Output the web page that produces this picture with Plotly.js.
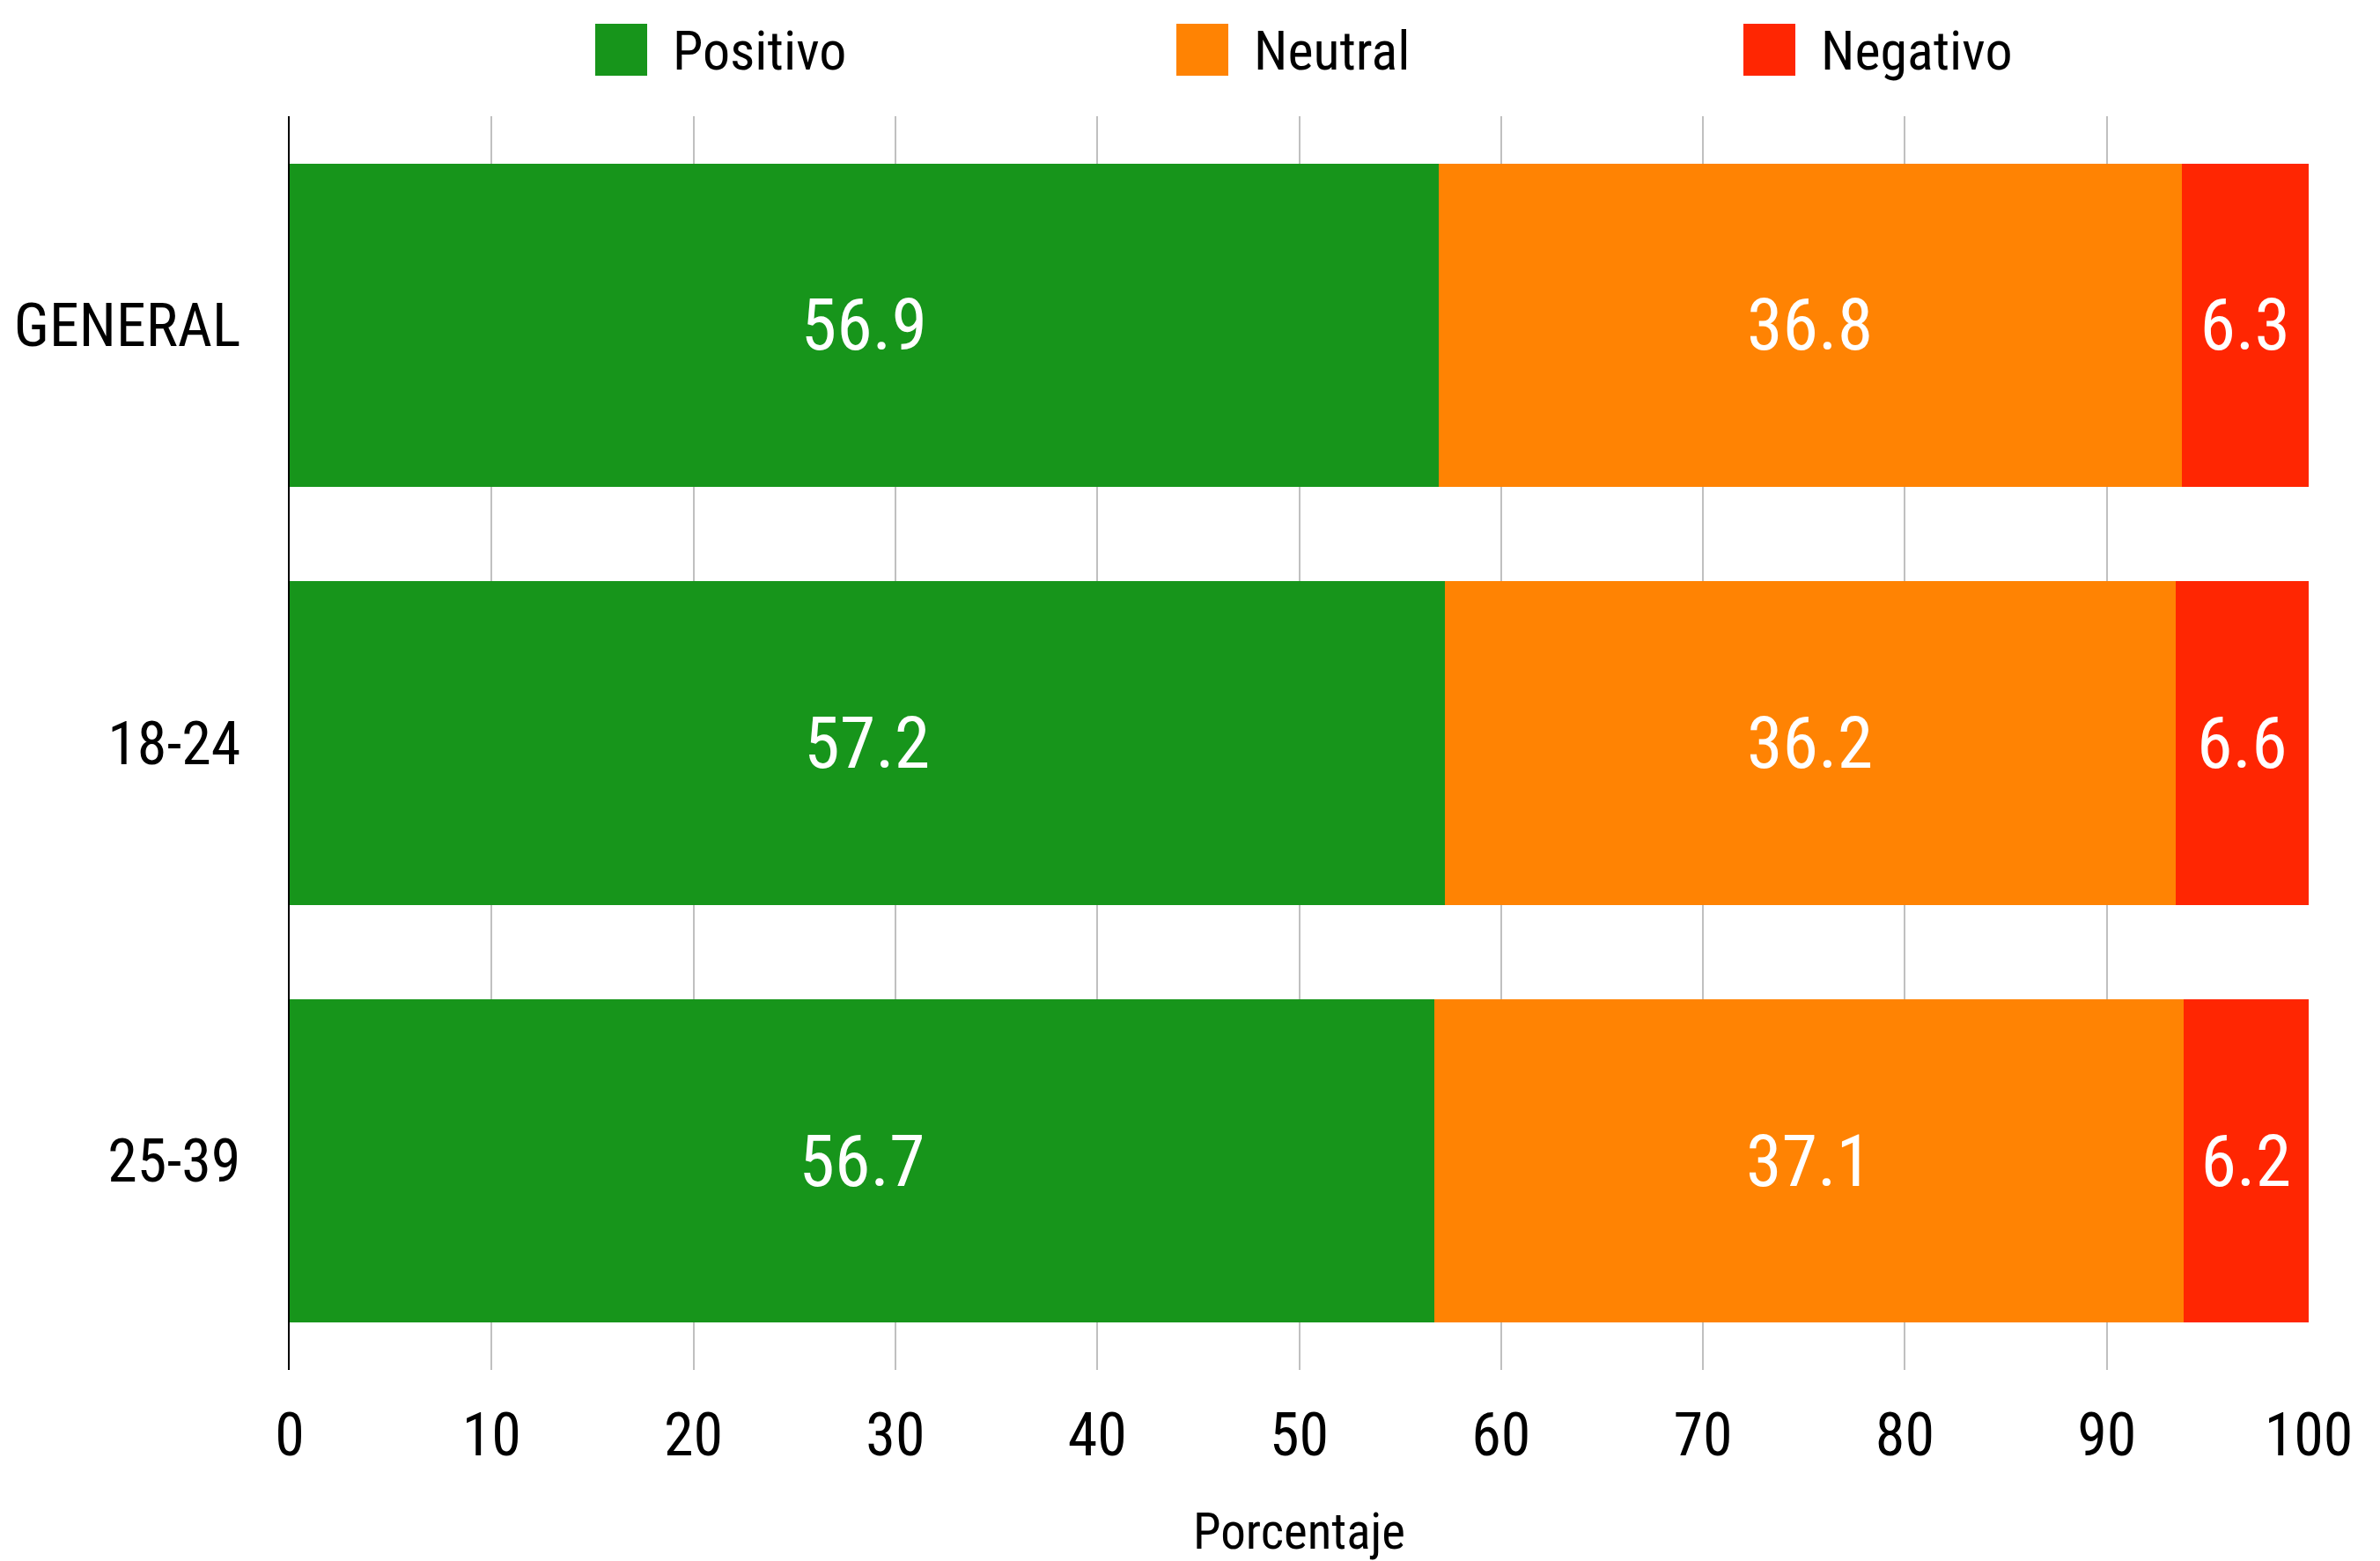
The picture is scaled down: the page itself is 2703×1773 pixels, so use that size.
<!DOCTYPE html>
<html>
<head>
<meta charset="utf-8">
<script src="https://cdn.plot.ly/plotly-3.0.1.min.js"></script>
<style>html,body{margin:0;padding:0;background:#fff;}#chart{width:2703px;height:1773px;}</style>
</head>
<body>
<div id="chart"></div>
<script>
const categories = ['GENERAL', '18-24', '25-39'];
const seriesNames = ['Positivo', 'Neutral', 'Negativo'];
const positivo = [56.9, 57.2, 56.7];
const neutral = [36.8, 36.2, 37.1];
const negativo = [6.3, 6.6, 6.2];
const xTickValues = [0, 10, 20, 30, 40, 50, 60, 70, 80, 90, 100];
const axisTitle = 'Porcentaje';

const colors = ['#17951B', '#FF8303', '#FF2602'];
const FONT = '"Roboto Condensed", "Liberation Sans Narrow", Roboto, sans-serif';
const seriesValues = [positivo, neutral, negativo];

const W = 2703, H = 1773;
const M = {l: 329, r: 81, t: 132, b: 217};
const plotW = W - M.l - M.r, plotH = H - M.t - M.b;
const px2x = p => (p - M.l) / plotW;
const py2y = p => (H - M.b - p) / plotH;

const traces = seriesNames.map((name, i) => ({
  type: 'bar',
  orientation: 'h',
  name: name,
  y: categories,
  x: seriesValues[i],
  marker: {color: colors[i], line: {width: 0}},
  texttemplate: '%{x:.1f}',
  textposition: 'inside',
  insidetextanchor: 'middle',
  textangle: 0,
  constraintext: 'none',
  textfont: {family: FONT, size: 82, color: '#ffffff'},
  showlegend: false,
  hoverinfo: 'x+y+name'
}));

// manual legend (large square swatches)
const legendBoxX = [676, 1336, 1980];
const shapes = [], annotations = [];
seriesNames.forEach((name, i) => {
  shapes.push({
    type: 'rect', xref: 'paper', yref: 'paper', layer: 'above',
    x0: px2x(legendBoxX[i]), x1: px2x(legendBoxX[i] + 59),
    y0: py2y(86), y1: py2y(27),
    fillcolor: colors[i], line: {width: 0}
  });
  annotations.push({
    xref: 'paper', yref: 'paper', x: px2x(legendBoxX[i] + 86), y: py2y(57),
    xanchor: 'left', yanchor: 'middle', showarrow: false,
    text: name, font: {family: FONT, size: 62, color: '#000000'}
  });
});

const layout = {
  width: W, height: H,
  margin: M,
  paper_bgcolor: '#ffffff', plot_bgcolor: '#ffffff',
  barmode: 'stack',
  bargap: 0.226,
  showlegend: false,
  font: {family: FONT, color: '#000000'},
  xaxis: {
    range: [0, 100],
    tickvals: xTickValues,
    ticktext: xTickValues.map(String),
    showgrid: true, gridcolor: '#C0C0C0', gridwidth: 2,
    zeroline: false, showline: false,
    ticks: '',
    ticklabelstandoff: 28,
    tickfont: {family: FONT, size: 68, color: '#000000'},
    title: {text: axisTitle, font: {family: FONT, size: 57, color: '#000000'}, standoff: 52},
    fixedrange: true
  },
  yaxis: {
    type: 'category',
    autorange: 'reversed',
    showgrid: false, zeroline: false,
    showline: true, linecolor: '#000000', linewidth: 2,
    ticks: '',
    ticklabelstandoff: 40,
    tickfont: {family: FONT, size: 68, color: '#000000'},
    fixedrange: true
  },
  shapes: shapes,
  annotations: annotations
};

Plotly.newPlot('chart', traces, layout, {displayModeBar: false, staticPlot: true});
</script>
</body>
</html>
